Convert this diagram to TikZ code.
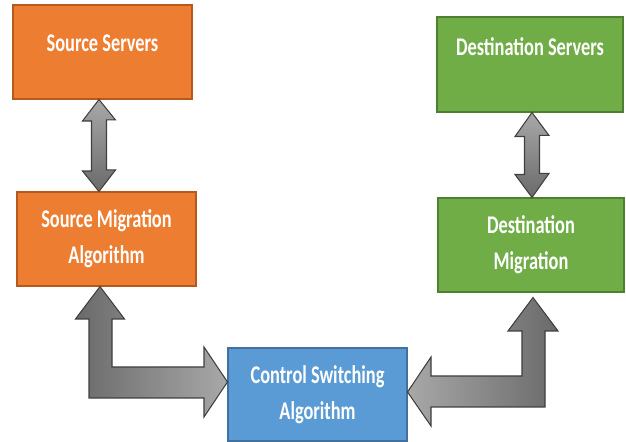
\documentclass[tikz,border=0pt]{standalone}
\usepackage{fontspec}
\setmainfont[FakeStretch=0.72]{Carlito}

\definecolor{camnen}{HTML}{ED7D31}
\definecolor{camvien}{HTML}{B5591C}
\definecolor{lanen}{HTML}{70AD47}
\definecolor{lavien}{HTML}{4F7F30}
\definecolor{lamnen}{HTML}{5B9BD5}
\definecolor{lamvien}{HTML}{41719C}
\definecolor{xamdam}{HTML}{6A6A6A}
\definecolor{xamnhat}{HTML}{A8A8A8}
\definecolor{xamvien}{HTML}{3F3F3F}

\begin{document}
\begin{tikzpicture}[line join=miter, scale=1,
	khoi/.style={draw, line width=0.6pt, inner sep=0pt, minimum width=3.58cm, minimum height=1.88cm},
	chu/.style={text=white, font=\bfseries\fontsize{14.5}{20.5}\selectfont, align=center},
	muiten/.style={draw=xamvien, line width=0.6pt}]
	
	\useasboundingbox (0,0) rectangle (12.52,8.84);
	
	% Các khối
	\node[khoi, fill=camnen, draw=camvien] (srcsrv) at (2.05,7.80) {};
	\node[chu] (srcsrvtxt) at ([yshift=0.18cm]srcsrv.center) {Source Servers};
	
	\node[khoi, chu, fill=camnen, draw=camvien] (srcmig) at (2.13,4.06) {Source Migration\\Algorithm};
	
	\node[khoi, fill=lanen, draw=lavien, minimum width=3.72cm, minimum height=1.90cm] (dstsrv) at (10.60,7.55) {};
	\node[chu] (dstsrvtxt) at ([yshift=0.35cm]dstsrv.center) {Destination Servers};
	
	\node[khoi, chu, fill=lanen, draw=lavien, minimum width=3.72cm] (dstmig) at (10.62,3.94) {Destination\\Migration};
	
	\node[khoi, chu, fill=lamnen, draw=lamvien, minimum height=1.86cm] (ctrl) at (6.35,0.95) {Control Switching\\Algorithm};
	
	% Mũi tên kép bên trái
	\draw[muiten, top color=xamnhat, bottom color=xamdam]
	([xshift=-0.07cm]srcsrv.south) -- ++(-0.33,-0.43) -- ++(0.18,0) -- ++(0,-1.00) -- ++(-0.18,0)
	-- ([xshift=-0.15cm]srcmig.north) -- ++(0.33,0.43) -- ++(-0.18,0) -- ++(0,1.00) -- ++(0.18,0) -- cycle;
	
	% Mũi tên kép bên phải
	\draw[muiten, top color=xamnhat, bottom color=xamdam]
	([xshift=0.04cm]dstsrv.south) -- ++(-0.34,-0.48) -- ++(0.19,0) -- ++(0,-0.76) -- ++(-0.19,0)
	-- ([xshift=0.02cm]dstmig.north) -- ++(0.34,0.48) -- ++(-0.19,0) -- ++(0,0.76) -- ++(0.19,0) -- cycle;
	
	% Mũi tên gấp khúc trái
	\draw[muiten, left color=xamdam, right color=xamnhat]
	([xshift=-0.13cm]srcmig.south) -- (2.49,2.46) -- (2.24,2.46) -- (2.24,1.50) -- (4.08,1.50) -- (4.08,1.90)
	-- ([yshift=0.25cm]ctrl.west) -- (4.08,0.50) -- (4.08,0.88) -- (1.78,0.88) -- (1.78,2.46) -- (1.51,2.46) -- cycle;
	
	% Mũi tên gấp khúc phải
	\draw[muiten, left color=xamnhat, right color=xamdam]
	([xshift=0.04cm,yshift=-0.10cm]dstmig.south) -- (11.16,2.22) -- (10.90,2.22) -- (10.90,0.70) -- (8.62,0.70) -- (8.62,0.32)
	-- ([yshift=0.05cm]ctrl.east) -- (8.62,1.70) -- (8.62,1.32) -- (10.44,1.32) -- (10.44,2.22) -- (10.16,2.22) -- cycle;
	
\end{tikzpicture}
\end{document}
